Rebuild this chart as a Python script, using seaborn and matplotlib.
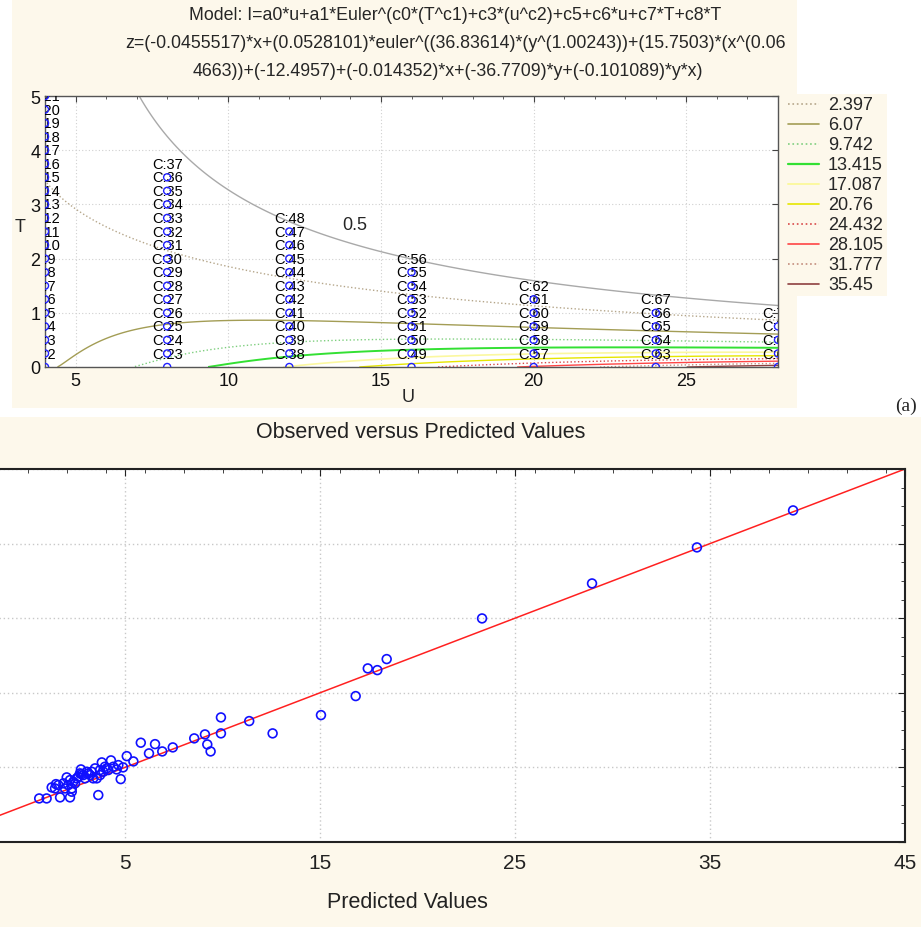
import numpy as np
import pandas as pd
import matplotlib
matplotlib.use("Agg")
import matplotlib.pyplot as plt
from matplotlib.lines import Line2D
from matplotlib.patches import Rectangle
from matplotlib.ticker import MultipleLocator
import seaborn as sns

# ---------------- data ----------------
# fitted model coefficients (as printed in the chart title)
a0 = -0.0455517
a1 = 0.0528101
c0 = 36.83614
c1 = 1.00243
c3 = 15.7503
c2 = 0.064663
c5 = -12.4957
c6 = -0.014352
c7 = -36.7709
c8 = -0.101089

contour_levels = [0.5, 2.397, 6.07, 9.742, 13.415, 17.087, 20.76, 24.432, 28.105, 31.777, 35.45]
contour_colors = ["#a9a9a9", "#b5a68a", "#a39d55", "#7fcf7f", "#33e033", "#fbf8a0",
                  "#e6e600", "#d84848", "#ff4545", "#c38c7c", "#8e4040"]
contour_styles = ["-", ":", "-", ":", "-", "-", "-", ":", "-", ":", "-"]
contour_widths = [1.0, 1.0, 1.0, 1.0, 1.4, 1.2, 1.0, 1.0, 1.0, 1.0, 1.0]
legend_labels = ["2.397", "6.07", "9.742", "13.415", "17.087", "20.76",
                 "24.432", "28.105", "31.777", "35.45"]

design_U = [4, 4, 4, 4, 4, 4, 4, 4, 4, 4, 4, 4, 4, 4, 4, 4, 4, 4, 4, 4, 4,
            8, 8, 8, 8, 8, 8, 8, 8, 8, 8, 8, 8, 8, 8, 8,
            12, 12, 12, 12, 12, 12, 12, 12, 12, 12, 12,
            16, 16, 16, 16, 16, 16, 16, 16,
            20, 20, 20, 20, 20, 20,
            24, 24, 24, 24, 24,
            28, 28, 28, 28]
design_T = [0, 0.25, 0.5, 0.75, 1, 1.25, 1.5, 1.75, 2, 2.25, 2.5, 2.75, 3, 3.25, 3.5,
            3.75, 4, 4.25, 4.5, 4.75, 5,
            0, 0.25, 0.5, 0.75, 1, 1.25, 1.5, 1.75, 2, 2.25, 2.5, 2.75, 3, 3.25, 3.5,
            0, 0.25, 0.5, 0.75, 1, 1.25, 1.5, 1.75, 2, 2.25, 2.5,
            0, 0.25, 0.5, 0.75, 1, 1.25, 1.5, 1.75,
            0, 0.25, 0.5, 0.75, 1, 1.25,
            0, 0.25, 0.5, 0.75, 1,
            0, 0.25, 0.5, 0.75]
design_ids = list(range(2, 72))

pred_vals = [0.60, 0.98, 1.24, 1.46, 1.67, 2.01, 2.18, 2.27, 2.44, 2.74, 2.78, 3.12,
             3.37, 3.63, 3.72, 3.81, 4.06, 4.28, 4.57, 4.78, 4.90, 5.09, 5.43, 5.81,
             6.23, 6.54, 6.91, 7.45, 8.55, 9.10, 9.22, 9.39, 9.92, 9.92, 11.37, 12.57,
             15.05, 16.83, 17.45, 17.94, 18.42, 23.31, 28.95, 34.33, 39.26,
             1.41, 1.58, 1.84, 1.92, 2.09, 2.18, 2.27, 2.35, 2.52, 2.61, 2.69, 2.86,
             2.95, 3.04, 3.21, 3.29, 3.46, 3.55, 3.72, 3.89, 3.97, 4.14, 4.40, 4.66]
obs_vals = [0.84, 0.84, 2.32, 2.76, 0.98, 3.66, 0.98, 2.18, 2.86, 4.73, 4.10, 4.20,
            3.53, 1.29, 4.64, 5.67, 4.87, 5.94, 4.73, 3.43, 5.00, 6.51, 5.80, 8.31,
            6.88, 8.12, 7.14, 7.68, 8.89, 9.42, 8.08, 7.14, 11.70, 9.56, 11.21, 9.56,
            12.01, 14.56, 18.27, 18.04, 19.52, 24.97, 29.66, 34.49, 39.45,
            2.18, 2.63, 2.86, 2.18, 2.63, 3.30, 1.74, 3.08, 3.53, 3.75, 4.20, 3.97,
            3.53, 4.42, 3.97, 4.42, 4.87, 3.53, 3.97, 4.42, 5.09, 4.64, 5.09, 5.31]
ref_line = [-5, 45]
bottom_ticks = [-5, 5, 15, 25, 35, 45]
bottom_ticklabels = ["", "5", "15", "25", "35", "45"]

# ---------------- style ----------------
sns.set_style("white")
plt.rcParams["font.family"] = ["Liberation Sans", "DejaVu Sans"]

W, H = 921, 928
CREAM = "#fdf8eb"
fig = plt.figure(figsize=(W / 100, H / 100), dpi=100)
fig.patch.set_facecolor("white")


def fx(px):
    return px / W


def fy(py):
    return 1 - py / H


def rect_px(x0, y0, x1, y1, color):
    fig.add_artist(Rectangle((fx(x0), fy(y1)), fx(x1) - fx(x0), fy(y0) - fy(y1),
                             transform=fig.transFigure, facecolor=color,
                             edgecolor="none", zorder=-5))


# cream panels
rect_px(12, 0, 797, 409, CREAM)
rect_px(785, 95, 887, 297, CREAM)
rect_px(0, 418, 921, 928, CREAM)

# ---------------- top panel: contour plot ----------------
ax1 = fig.add_axes([fx(45), fy(368), fx(778) - fx(45), fy(97) - fy(368)])
ax1.set_facecolor("white")

uu = np.linspace(4, 28, 241)
tt = np.linspace(0, 5, 251)
UU, TT = np.meshgrid(uu, tt)
ZZ = a0 * UU + a1 * np.exp(c0 * np.power(TT, c1) + c3 * np.power(UU, c2) + c5
                           + c6 * UU + c7 * TT + c8 * TT * UU)
cs = ax1.contour(UU, TT, ZZ, levels=contour_levels, colors=contour_colors,
                 linestyles=contour_styles, linewidths=contour_widths, zorder=2)

ax1.text(14.15, 2.62, "0.5", fontsize=13, ha="center", va="center", zorder=3,
         bbox=dict(facecolor="white", edgecolor="none", pad=1.0))

design_df = pd.DataFrame({"U": design_U, "T": design_T, "id": design_ids})
sns.scatterplot(data=design_df, x="U", y="T", ax=ax1, marker="o", s=26,
                facecolor="none", edgecolor="#2020ff", linewidth=1.0, zorder=5,
                legend=False)
for u, t, i in zip(design_U, design_T, design_ids):
    ax1.annotate(f"C:{i}", (u, t), xytext=(0, 9.7), textcoords="offset points",
                 ha="center", va="center", fontsize=10.5, color="black",
                 clip_on=True, annotation_clip=False, zorder=4)

ax1.set_xlim(4, 28)
ax1.set_ylim(0, 5)
ax1.set_xticks([5, 10, 15, 20, 25])
ax1.set_yticks([0, 1, 2, 3, 4, 5])
ax1.xaxis.set_minor_locator(MultipleLocator(1))
ax1.tick_params(axis="both", which="both", direction="in", top=True, right=True,
                labelsize=13, colors="#444444", labelcolor="#111111")
ax1.tick_params(which="major", length=4)
ax1.tick_params(which="minor", length=2.5)
ax1.grid(True, which="major", linestyle=(0, (1, 2)), color="#d0d0d0", linewidth=0.8)
ax1.set_axisbelow(True)
for sp in ax1.spines.values():
    sp.set_color("#555555")
    sp.set_linewidth(1.0)
ax1.set_xlabel("")
ax1.set_ylabel("")
fig.text(fx(408), fy(398), "U", fontsize=13, ha="center", va="center")
fig.text(fx(20), fy(228), "T", fontsize=13, ha="center", va="center")

# title lines
title_lines = [
    "Model: I=a0*u+a1*Euler^(c0*(T^c1)+c3*(u^c2)+c5+c6*u+c7*T+c8*T",
    "z=(-0.0455517)*x+(0.0528101)*euler^((36.83614)*(y^(1.00243))+(15.7503)*(x^(0.06",
    "4663))+(-12.4957)+(-0.014352)*x+(-36.7709)*y+(-0.101089)*y*x)",
]
for txt, (cx, cy) in zip(title_lines, [(455, 15), (455, 44), (448, 72)]):
    fig.text(fx(cx), fy(cy), txt, fontsize=12.8, ha="center", va="center")

# legend (manual, right of the contour plot)
for k, lab in enumerate(legend_labels):
    yy = 105 + k * 20
    lvl = k + 1
    fig.add_artist(Line2D([fx(788), fx(819)], [fy(yy), fy(yy)], transform=fig.transFigure,
                          color=contour_colors[lvl], linestyle=contour_styles[lvl],
                          linewidth=contour_widths[lvl] + 0.2))
    fig.text(fx(828), fy(yy), lab, fontsize=13, ha="left", va="center")

fig.text(fx(906), fy(406), "(a)", fontsize=14, ha="center", va="center",
         family=["Liberation Serif", "DejaVu Serif"])

# ---------------- bottom panel: observed vs predicted ----------------
ax2 = fig.add_axes([fx(-70), fy(843), fx(905) - fx(-70), fy(470) - fy(843)])
ax2.set_facecolor("white")
line_df = pd.DataFrame({"x": ref_line, "y": ref_line})
sns.lineplot(data=line_df, x="x", y="y", ax=ax2, color="#ff2020", linewidth=1.1,
             zorder=2)
ovp_df = pd.DataFrame({"pred": pred_vals, "obs": obs_vals})
sns.scatterplot(data=ovp_df, x="pred", y="obs", ax=ax2, marker="o", s=40,
                facecolor="none", edgecolor="#1010ff", linewidth=1.2, zorder=3,
                legend=False)
ax2.set_xlim(-5, 45)
ax2.set_ylim(-5, 45)
ax2.set_xticks(bottom_ticks)
ax2.set_xticklabels(bottom_ticklabels)
ax2.set_yticks(bottom_ticks)
ax2.set_yticklabels([])
ax2.xaxis.set_minor_locator(MultipleLocator(2))
ax2.yaxis.set_minor_locator(MultipleLocator(2.5))
ax2.tick_params(axis="both", which="both", direction="in", top=True, right=True,
                labelsize=15, colors="#222222", labelcolor="#222222")
ax2.tick_params(which="major", length=5, pad=8)
ax2.tick_params(which="minor", length=3)
ax2.grid(True, which="major", linestyle=(0, (1, 2)), color="#c8c8c8", linewidth=1.0)
ax2.set_axisbelow(True)
for sp in ax2.spines.values():
    sp.set_color("#222222")
    sp.set_linewidth(1.5)
ax2.set_xlabel("")
ax2.set_ylabel("")
fig.text(fx(421), fy(433), "Observed versus Predicted Values", fontsize=15.5,
         ha="center", va="center", color="#222222")
fig.text(fx(407), fy(903), "Predicted Values", fontsize=15.5, ha="center",
         va="center", color="#222222")

fig.savefig("out.png", dpi=100)
